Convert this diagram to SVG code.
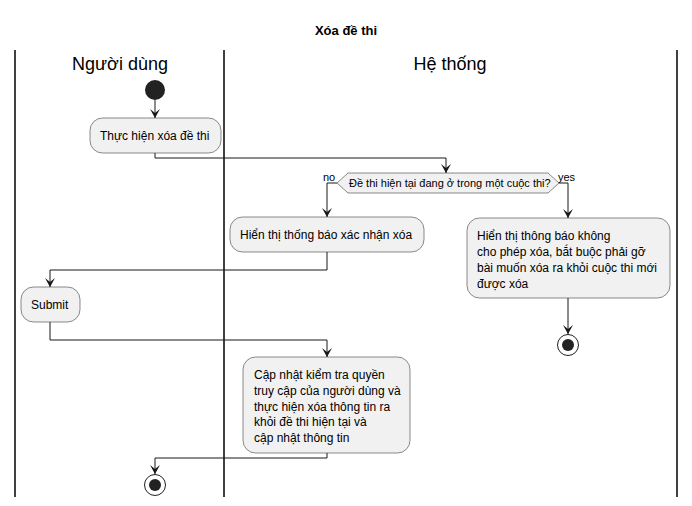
<svg xmlns="http://www.w3.org/2000/svg" width="692" height="506" viewBox="0 0 692 506">
<style>
text{font-family:"Liberation Sans",Arial,sans-serif;fill:#000}
.lane{stroke:#000;stroke-width:1.5}
.act{fill:#F1F1F1;stroke:#181818;stroke-width:0.5}
.t12{font-size:12px}
.t11{font-size:11px}
.hdr{font-size:18px;text-anchor:middle}
.edge{fill:none;stroke:#181818;stroke-width:1}
.head{fill:#181818}
.start{fill:#222222}
</style>
<rect width="692" height="506" fill="#fff"/>
<text x="346" y="35" text-anchor="middle" style="font-size:13px;font-weight:bold">Xóa đề thi</text>
<g id="lanes">
<line class="lane" x1="15" y1="50" x2="15" y2="497"/>
<line class="lane" x1="224" y1="50" x2="224" y2="497"/>
<line class="lane" x1="677" y1="50" x2="677" y2="497"/>
<text class="hdr" x="120" y="70">Người dùng</text>
<text class="hdr" x="450" y="70">Hệ thống</text>
</g>
<g id="connectors">
<path class="edge" d="M155,100 V118"/>
<path class="head" d="M150,109 L155,118 L160,109 L155,113 Z"/>
<path class="edge" d="M155,153 V158 H446 V173"/>
<path class="head" d="M441,164 L446,173 L451,164 L446,168 Z"/>
<path class="edge" d="M337,183 H327 V217"/>
<path class="head" d="M322,208 L327,217 L332,208 L327,212 Z"/>
<path class="edge" d="M559,183 H568 V218"/>
<path class="head" d="M563,209 L568,218 L573,209 L568,213 Z"/>
<path class="edge" d="M327,252 V270 H50 V287"/>
<path class="head" d="M45,278 L50,287 L55,278 L50,282 Z"/>
<path class="edge" d="M50,322 V340 H327 V357"/>
<path class="head" d="M322,348 L327,357 L332,348 L327,352 Z"/>
<path class="edge" d="M327,453 V458 H155 V474"/>
<path class="head" d="M150,465 L155,474 L160,465 L155,469 Z"/>
<path class="edge" d="M568,298 V334"/>
<path class="head" d="M563,325 L568,334 L573,325 L568,329 Z"/>
<text class="t11" x="323" y="181">no</text>
<text class="t11" x="558" y="181">yes</text>
</g>
<g id="start">
<circle class="start" cx="155" cy="90" r="10"/>
</g>
<g id="act1">
<rect class="act" x="90" y="118" width="131" height="35" rx="12.5"/>
<text class="t12" x="100" y="140">Thực hiện xóa đề thi</text>
</g>
<g id="decision">
<polygon class="act" points="337,183 348,173 548,173 559,183 548,193 348,193"/>
<text class="t11" x="349" y="187">Đề thi hiện tại đang ở trong một cuộc thi?</text>
</g>
<g id="act-confirm">
<rect class="act" x="230" y="217" width="194" height="35" rx="12.5"/>
<text class="t12" x="240" y="239">Hiển thị thống báo xác nhận xóa</text>
</g>
<g id="act-deny">
<rect class="act" x="467" y="218" width="203" height="80" rx="12.5"/>
<text class="t12" x="477" y="240">Hiển thị thông báo không</text>
<text class="t12" x="477" y="256">cho phép xóa, bắt buộc phải gỡ</text>
<text class="t12" x="477" y="272">bài muốn xóa ra khỏi cuộc thi mới</text>
<text class="t12" x="477" y="288">được xóa</text>
</g>
<g id="end-yes">
<circle cx="568" cy="345" r="10.5" fill="#fff" stroke="#222" stroke-width="1"/>
<circle class="start" cx="568" cy="345" r="6"/>
</g>
<g id="act-submit">
<rect class="act" x="21" y="287" width="59" height="35" rx="12.5"/>
<text class="t12" x="31" y="309">Submit</text>
</g>
<g id="act-update">
<rect class="act" x="243" y="357" width="167" height="96" rx="12.5"/>
<text class="t12" x="254" y="379">Cập nhật kiểm tra quyền</text>
<text class="t12" x="254" y="395">truy cập của người dùng và</text>
<text class="t12" x="254" y="411">thực hiện xóa thông tin ra</text>
<text class="t12" x="254" y="426">khỏi đề thi hiện tại và</text>
<text class="t12" x="254" y="442">cập nhật thông tin</text>
</g>
<g id="end">
<circle cx="155" cy="485" r="10.5" fill="#fff" stroke="#222" stroke-width="1"/>
<circle class="start" cx="155" cy="485" r="6"/>
</g>
</svg>
